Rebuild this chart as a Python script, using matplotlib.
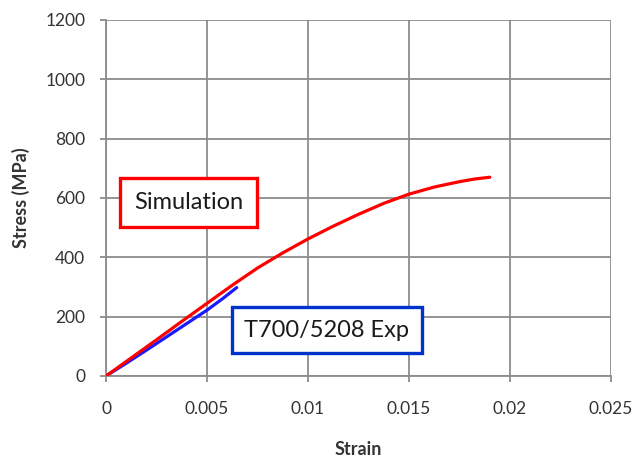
import matplotlib
matplotlib.use("Agg")
import matplotlib.pyplot as plt

# Data
sim_strain = [0, 0.00125, 0.0025, 0.00375, 0.005, 0.00625, 0.0075, 0.00875,
              0.01, 0.01125, 0.0125, 0.01375, 0.015, 0.01625, 0.0175, 0.01825, 0.019]
sim_stress = [0, 61, 122, 184, 245, 306, 364, 415,
              462, 505, 545, 582, 613, 637, 655, 664, 670]
exp_strain = [0, 0.001, 0.002, 0.003, 0.004, 0.005, 0.0058, 0.00647]
exp_stress = [0, 43, 87, 132, 177, 222, 262, 298]

xticks = [0, 0.005, 0.01, 0.015, 0.02, 0.025]
xticklabels = ["0", "0.005", "0.01", "0.015", "0.02", "0.025"]
yticks = [0, 200, 400, 600, 800, 1000, 1200]

plt.rcParams['font.family'] = ['Lato', 'DejaVu Sans']

fig = plt.figure(figsize=(6.35, 4.62), dpi=100)
ax = fig.add_axes([106/635, 1-376/462, 505/635, 356/462])

grid_c = '#8c8c8c'
ax.plot(sim_strain, sim_stress, color='#ff0000', lw=2.3, zorder=3,
        solid_capstyle='round', solid_joinstyle='round')
ax.plot(exp_strain, exp_stress, color='#1a1aff', lw=2.3, zorder=2,
        solid_capstyle='round', solid_joinstyle='round')

ax.set_xlim(0, 0.025)
ax.set_ylim(0, 1200)
ax.set_xticks(xticks)
ax.set_xticklabels(xticklabels)
ax.set_yticks(yticks)
ax.grid(True, color=grid_c, lw=1.3)
ax.set_axisbelow(True)
for s in ['top', 'right']:
    ax.spines[s].set_visible(False)
for s in ['left', 'bottom']:
    ax.spines[s].set_color(grid_c)
    ax.spines[s].set_linewidth(1.3)
ax.tick_params(axis='both', direction='out', length=4, width=1.3, color=grid_c,
               labelsize=12.5, labelcolor='#333333')
ax.tick_params(axis='x', pad=14)
ax.tick_params(axis='y', pad=11)

ax.set_xlabel('Strain', fontsize=13, fontweight='bold', color='#333333', labelpad=17)
ax.set_ylabel('Stress (MPa)', fontsize=13, fontweight='bold', color='#333333', labelpad=11)

ax.text(0.004084, 585, 'Simulation', ha='center', va='center', fontsize=17,
        color='#1a1a1a', zorder=5,
        bbox=dict(boxstyle='square,pad=0.58', fc='white', ec='#ff0000', lw=2.4))
ax.text(0.01094, 155, 'T700/5208 Exp', ha='center', va='center', fontsize=17,
        color='#1a1a1a', zorder=5,
        bbox=dict(boxstyle='square,pad=0.52', fc='white', ec='#0033cc', lw=2.4))

fig.savefig('out.png', dpi=100)
